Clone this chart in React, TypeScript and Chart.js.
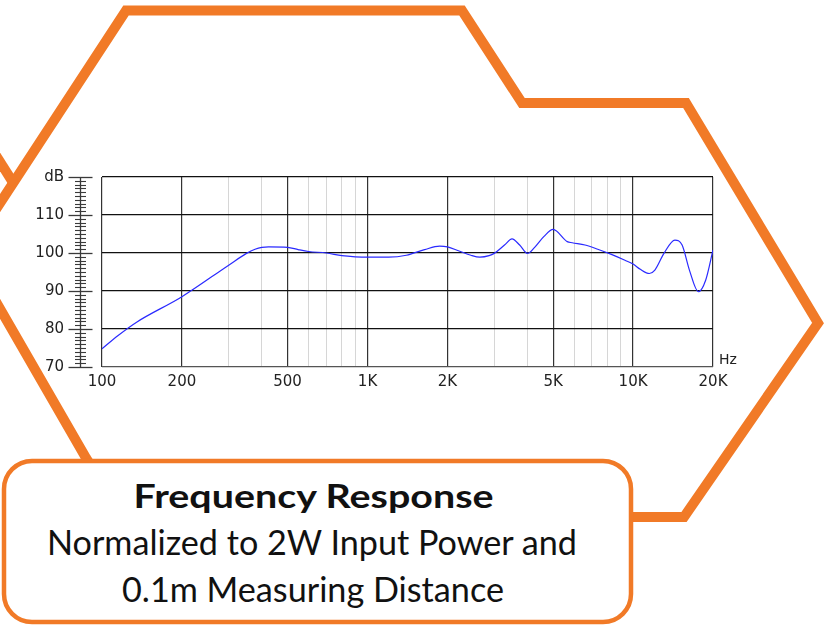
import React, { useEffect, useRef } from "react";
import { Chart, registerables } from "chart.js";

Chart.register(...registerables);

// ---- data ----
const FREQ_HZ = [
  100, 115, 135, 200, 300, 350, 377, 400, 424, 500, 548, 600, 700, 800, 900,
  1000, 1200, 1400, 1640, 1870, 2000, 2200, 2450, 2650, 2870, 3000, 3280,
  3500, 3740, 4000, 4260, 4610, 5000, 5650, 5900, 6590, 7360, 8240, 9320,
  10000, 10650, 11520, 12080, 13070, 14370, 15300, 16300, 17630, 18780, 20000,
];
const LEVEL_DB = [
  74.8, 78.3, 81.8, 88.5, 96.8, 99.9, 101.0, 101.5, 101.6, 101.5, 100.9,
  100.4, 100.0, 99.3, 99.0, 98.9, 98.9, 99.4, 100.9, 101.8, 101.6, 100.6,
  99.4, 98.9, 99.3, 99.9, 102.1, 103.7, 102.1, 99.9, 101.5, 104.3, 106.2,
  103.0, 102.7, 102.1, 101.0, 99.7, 98.1, 97.1, 95.7, 94.6, 95.5, 99.9,
  103.4, 102.1, 95.5, 89.8, 92.9, 100.8,
];

const X_MIN = 100;
const X_MAX = 20000;
const X_GRID_VALUES = [
  100, 200, 300, 400, 500, 600, 700, 800, 900, 1000, 2000, 3000, 4000, 5000,
  6000, 7000, 8000, 9000, 10000, 20000,
];
const X_LABEL_VALUES = [100, 200, 500, 1000, 2000, 5000, 10000, 20000];
const X_LABEL_TEXT = ["100", "200", "500", "1K", "2K", "5K", "10K", "20K"];
const X_UNIT = "Hz";

const Y_MIN = 70;
const Y_MAX = 120;
const Y_MINOR_STEP = 1;
const Y_MAJOR_STEP = 10;
const Y_TOP_LABEL = "dB";

const TITLE = "Frequency Response";
const SUBTITLE_1 = "Normalized to 2W Input Power and";
const SUBTITLE_2 = "0.1m Measuring Distance";

const ORANGE = "#f17a27";
const AXIS_FONT = "'DejaVu Sans', Verdana, sans-serif";

const yAxisDecor = {
  id: "yAxisDecor",
  afterDraw(chart: any) {
    const ys = chart.scales.y;
    const ctx = chart.ctx;
    const axisX = 80.5;
    ctx.save();
    ctx.strokeStyle = "#3a3a3a";
    ctx.lineWidth = 1.3;
    ctx.beginPath();
    ctx.moveTo(axisX, ys.getPixelForValue(ys.max));
    ctx.lineTo(axisX, ys.getPixelForValue(ys.min));
    ctx.stroke();
    ys.ticks.forEach((t: any) => {
      const y = Math.round(ys.getPixelForValue(t.value)) + 0.5;
      const major = t.value % Y_MAJOR_STEP === 0;
      ctx.beginPath();
      ctx.lineWidth = major ? 1.3 : 1.1;
      ctx.moveTo(major ? axisX - 12 : axisX - 5.5, y);
      ctx.lineTo(major ? axisX + 12 : axisX + 5.5, y);
      ctx.stroke();
    });
    const area = chart.chartArea;
    ctx.fillStyle = "#222";
    ctx.font = `14px ${AXIS_FONT}`;
    ctx.textAlign = "left";
    ctx.textBaseline = "middle";
    ctx.fillText(X_UNIT, area.right + 6, area.bottom - 7);
    ctx.restore();
  },
};

function FrequencyChart() {
  const ref = useRef<HTMLCanvasElement | null>(null);
  useEffect(() => {
    if (!ref.current) return;
    const chart = new Chart(ref.current, {
      type: "line",
      data: {
        datasets: [
          {
            data: FREQ_HZ.map((f, i) => ({ x: f, y: LEVEL_DB[i] })),
            borderColor: "#2a2aff",
            borderWidth: 1.2,
            pointRadius: 0,
            fill: false,
            cubicInterpolationMode: "monotone",
          },
        ],
      },
      options: {
        animation: false,
        responsive: false,
        devicePixelRatio: 1,
        events: [],
        layout: { padding: { top: 177, right: 112, bottom: 230, left: 0 } },
        plugins: { legend: { display: false }, tooltip: { enabled: false } },
        scales: {
          x: {
            type: "logarithmic",
            min: X_MIN,
            max: X_MAX,
            afterBuildTicks: (scale: any) => {
              scale.ticks = X_GRID_VALUES.map((v) => ({ value: v }));
            },
            afterFit: (scale: any) => {
              scale.height = 28;
            },
            border: { display: false },
            grid: {
              drawTicks: false,
              color: (c: any) =>
                X_LABEL_VALUES.includes(c.tick?.value) ? "#333" : "#d6d6d6",
              lineWidth: (c: any) =>
                X_LABEL_VALUES.includes(c.tick?.value) ? 1.2 : 1,
            },
            ticks: {
              autoSkip: false,
              maxRotation: 0,
              padding: 6,
              color: "#222",
              font: { family: AXIS_FONT, size: 15 },
              callback: (v: any) => {
                const i = X_LABEL_VALUES.indexOf(Number(v));
                return i >= 0 ? X_LABEL_TEXT[i] : "";
              },
            },
          },
          y: {
            type: "linear",
            min: Y_MIN,
            max: Y_MAX,
            afterFit: (scale: any) => {
              scale.width = 102;
            },
            border: { display: false },
            grid: {
              drawTicks: false,
              color: (c: any) => {
                const v = c.tick?.value;
                if (v === Y_MIN) return "#555";
                return v % Y_MAJOR_STEP === 0 ? "#111" : "rgba(0,0,0,0)";
              },
              lineWidth: 1.2,
            },
            ticks: {
              stepSize: Y_MINOR_STEP,
              autoSkip: false,
              maxTicksLimit: 1000,
              padding: 38,
              color: "#222",
              font: { family: AXIS_FONT, size: 15 },
              callback: (v: any) => {
                const n = Number(v);
                if (n === Y_MAX) return Y_TOP_LABEL;
                return n % Y_MAJOR_STEP === 0 ? String(n) : "";
              },
            },
          },
        },
      } as any,
      plugins: [yAxisDecor],
    });
    return () => chart.destroy();
  }, []);
  return (
    <canvas
      ref={ref}
      width={825}
      height={625}
      style={{ position: "absolute", left: 0, top: 0, width: 825, height: 625 }}
    />
  );
}

export default function App() {
  return (
    <div
      style={{
        position: "absolute",
        left: 0,
        top: 0,
        width: 825,
        height: 625,
        background: "#fff",
        overflow: "hidden",
      }}
    >
      <svg
        width={825}
        height={625}
        style={{ position: "absolute", left: 0, top: 0 }}
      >
        <g fill="none" stroke={ORANGE} strokeWidth={10} strokeLinejoin="miter">
          <polyline points="-62,298 126,10.5 462,10.5 522,103 686,103 818,323 684,517 600,517" />
          <polyline points="-12,288 86,458 95,472" />
          <polyline points="-10,146 14,184" />
        </g>
        <rect
          x={4}
          y={461}
          width={627}
          height={161}
          rx={28}
          ry={28}
          fill="#fff"
          stroke={ORANGE}
          strokeWidth={4.5}
        />
        <g fill="#111" fontFamily="Lato, 'Open Sans', sans-serif" textAnchor="middle">
          <text x={313.5} y={508.3} fontSize={33} fontWeight="bold" textLength={360} lengthAdjust="spacingAndGlyphs">
            {TITLE}
          </text>
          <text x={312} y={555} fontSize={34} textLength={530} lengthAdjust="spacingAndGlyphs">
            {SUBTITLE_1}
          </text>
          <text x={313} y={601.7} fontSize={34} textLength={382} lengthAdjust="spacingAndGlyphs">
            {SUBTITLE_2}
          </text>
        </g>
      </svg>
      <FrequencyChart />
    </div>
  );
}
